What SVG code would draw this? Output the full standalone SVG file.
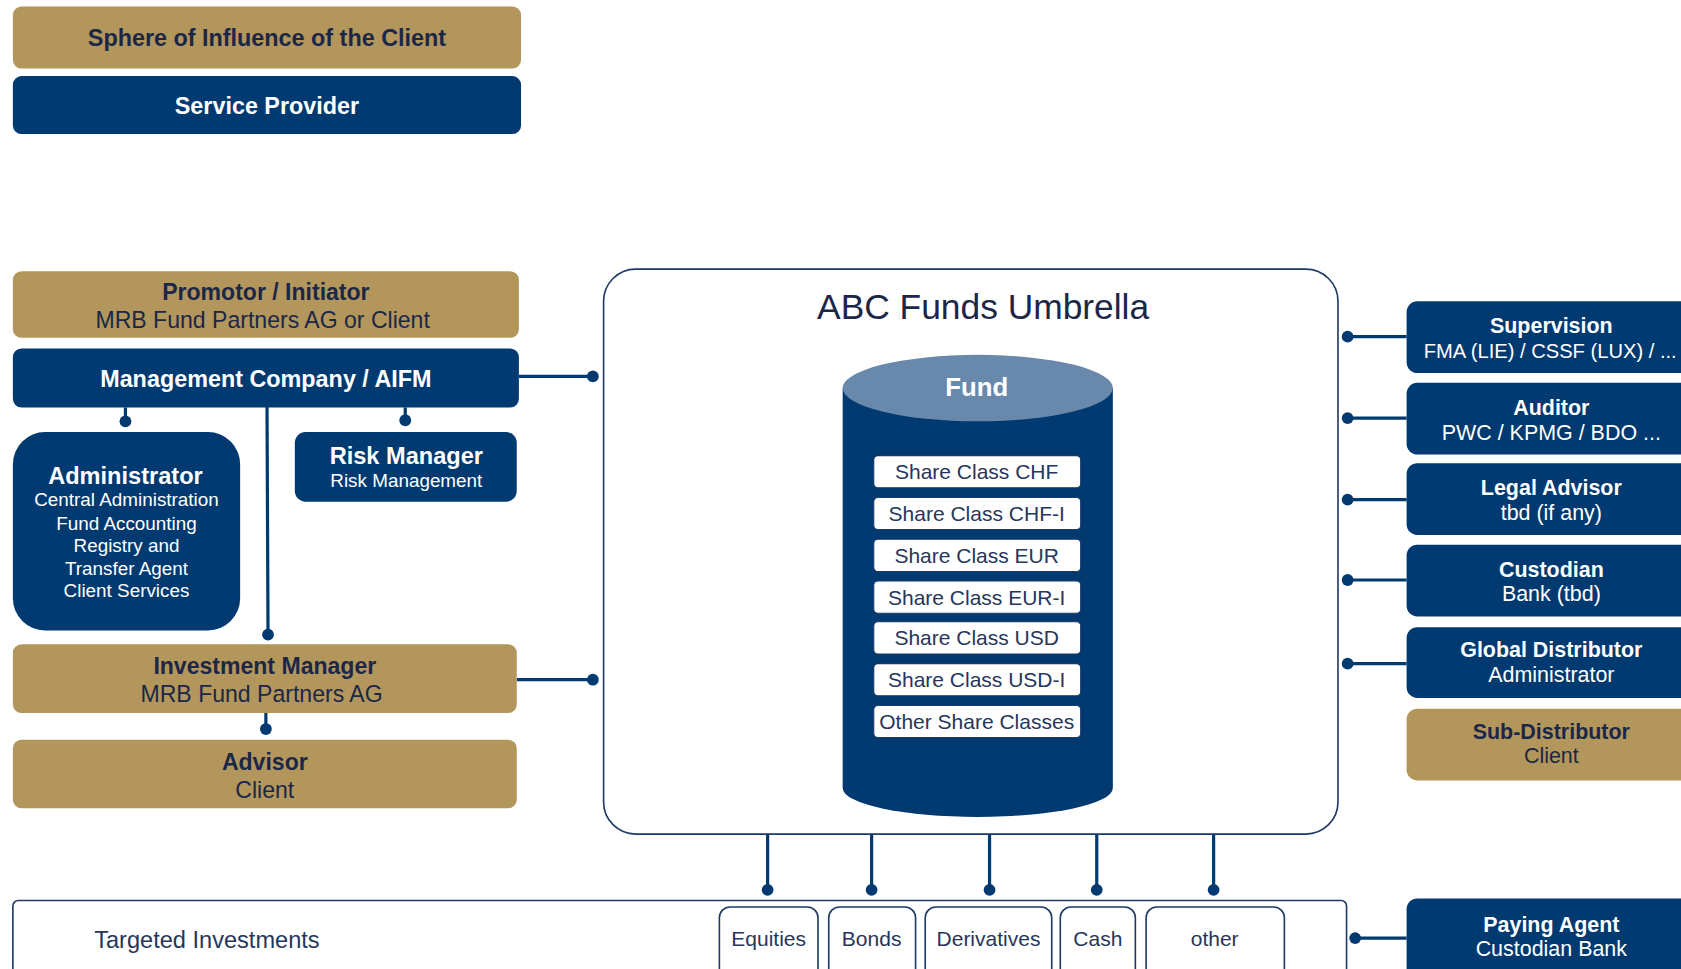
<svg xmlns="http://www.w3.org/2000/svg" width="1681" height="969" viewBox="0 0 1681 969">
<style>
text{font-family:"Liberation Sans",Arial,sans-serif;text-anchor:middle}
.gold{fill:#b3965b}
.navy{fill:#003a70}
.tg{fill:#1b2748}
.tw{fill:#ffffff}
.b{font-weight:bold}
.conn{stroke:#003a70;stroke-width:3;fill:none}
.dot{fill:#003a70}
.sc{fill:#ffffff;stroke:#1f3864;stroke-width:1}
.sct{fill:#26365c;font-size:19.6px}
.inv{fill:#ffffff;stroke:#1f3864;stroke-width:1.5}
.invt{fill:#26365c;font-size:19.6px}
.rt{font-size:20px}
</style>
<rect width="1681" height="969" fill="#ffffff"/>
<g transform="scale(1.0721)">
<g id="legend-sphere"><rect class="gold" x="12" y="6" width="474" height="58" rx="8"/><text class="tg b" x="249" y="43" font-size="21.8">Sphere of Influence of the Client</text></g>
<g id="legend-service"><rect class="navy" x="12" y="71" width="474" height="54" rx="8"/><text class="tw b" x="249" y="106" font-size="21.8">Service Provider</text></g>

<g id="connectors">
<line class="conn" x1="484" y1="351" x2="553" y2="351"/><circle class="dot" cx="553" cy="351" r="5.5"/>
<line class="conn" x1="117" y1="380" x2="117" y2="393"/><circle class="dot" cx="117" cy="393" r="5.5"/>
<line class="conn" x1="378" y1="380" x2="378" y2="392"/><circle class="dot" cx="378" cy="392" r="5.5"/>
<line class="conn" x1="249" y1="368" x2="250" y2="592"/><circle class="dot" cx="250" cy="592" r="5.5"/>
<line class="conn" x1="482" y1="634" x2="553" y2="634"/><circle class="dot" cx="553" cy="634" r="5.5"/>
<line class="conn" x1="248" y1="665" x2="248" y2="680"/><circle class="dot" cx="248" cy="680" r="5.5"/>
<line class="conn" x1="1257" y1="314" x2="1312" y2="314"/><circle class="dot" cx="1257" cy="314" r="5.5"/>
<line class="conn" x1="1257" y1="390" x2="1312" y2="390"/><circle class="dot" cx="1257" cy="390" r="5.5"/>
<line class="conn" x1="1257" y1="466" x2="1312" y2="466"/><circle class="dot" cx="1257" cy="466" r="5.5"/>
<line class="conn" x1="1257" y1="541" x2="1312" y2="541"/><circle class="dot" cx="1257" cy="541" r="5.5"/>
<line class="conn" x1="1257" y1="619" x2="1312" y2="619"/><circle class="dot" cx="1257" cy="619" r="5.5"/>
<line class="conn" x1="1264" y1="875" x2="1312" y2="875"/><circle class="dot" cx="1264" cy="875" r="5.5"/>
<line class="conn" x1="716" y1="778" x2="716" y2="830"/><circle class="dot" cx="716" cy="830" r="5.5"/>
<line class="conn" x1="813" y1="778" x2="813" y2="830"/><circle class="dot" cx="813" cy="830" r="5.5"/>
<line class="conn" x1="923" y1="778" x2="923" y2="830"/><circle class="dot" cx="923" cy="830" r="5.5"/>
<line class="conn" x1="1023" y1="778" x2="1023" y2="830"/><circle class="dot" cx="1023" cy="830" r="5.5"/>
<line class="conn" x1="1132" y1="778" x2="1132" y2="830"/><circle class="dot" cx="1132" cy="830" r="5.5"/>
</g>

<g id="promotor"><rect class="gold" x="12" y="253" width="472" height="62" rx="8"/><text class="tg b" x="248" y="280" font-size="21.5">Promotor / Initiator</text><text class="tg" x="245" y="306" font-size="21.5">MRB Fund Partners AG or Client</text></g>
<g id="management"><rect class="navy" x="12" y="325" width="472" height="55" rx="8"/><text class="tw b" x="248" y="361" font-size="21.8">Management Company / AIFM</text></g>
<g id="administrator"><rect class="navy" x="12" y="403" width="212" height="185" rx="30"/><text class="tw b" x="117" y="451" font-size="22">Administrator</text><text class="tw" font-size="17.6"><tspan x="118" y="472">Central Administration</tspan><tspan x="118" y="494">Fund Accounting</tspan><tspan x="118" y="515">Registry and</tspan><tspan x="118" y="536">Transfer Agent</tspan><tspan x="118" y="557">Client Services</tspan></text></g>
<g id="risk-manager"><rect class="navy" x="275" y="403" width="207" height="65" rx="10"/><text class="tw b" x="379" y="433" font-size="22">Risk Manager</text><text class="tw" x="379" y="454" font-size="17.6">Risk Management</text></g>
<g id="investment-manager"><rect class="gold" x="12" y="601" width="470" height="64" rx="8"/><text class="tg b" x="247" y="629" font-size="21.5">Investment Manager</text><text class="tg" x="244" y="655" font-size="21.5">MRB Fund Partners AG</text></g>
<g id="advisor"><rect class="gold" x="12" y="690" width="470" height="64" rx="8"/><text class="tg b" x="247" y="718" font-size="21.5">Advisor</text><text class="tg" x="247" y="744" font-size="21.5">Client</text></g>

<g id="umbrella"><rect x="563" y="251" width="685" height="527" rx="30" fill="#ffffff" stroke="#1f3864" stroke-width="1.5"/><text x="917" y="298" font-size="33" fill="#1b2748">ABC Funds Umbrella</text></g>
<g id="fund">
<path class="navy" d="M786,362 L786,735 A126,27 0 0 0 1038,735 L1038,362 Z"/>
<ellipse cx="912" cy="362" rx="126" ry="31" fill="#6889ab"/>
<text class="tw b" x="911" y="369" font-size="24">Fund</text>
</g>
<g id="sc-chf"><rect class="sc" x="815" y="425" width="193" height="30" rx="4"/><text class="sct" x="911" y="447">Share Class CHF</text></g>
<g id="sc-chf-i"><rect class="sc" x="815" y="464" width="193" height="30" rx="4"/><text class="sct" x="911" y="486">Share Class CHF-I</text></g>
<g id="sc-eur"><rect class="sc" x="815" y="503" width="193" height="30" rx="4"/><text class="sct" x="911" y="525">Share Class EUR</text></g>
<g id="sc-eur-i"><rect class="sc" x="815" y="542" width="193" height="30" rx="4"/><text class="sct" x="911" y="564">Share Class EUR-I</text></g>
<g id="sc-usd"><rect class="sc" x="815" y="580" width="193" height="30" rx="4"/><text class="sct" x="911" y="602">Share Class USD</text></g>
<g id="sc-usd-i"><rect class="sc" x="815" y="619" width="193" height="30" rx="4"/><text class="sct" x="911" y="641">Share Class USD-I</text></g>
<g id="sc-other"><rect class="sc" x="815" y="658" width="193" height="30" rx="4"/><text class="sct" x="911" y="680">Other Share Classes</text></g>

<g id="supervision"><rect class="navy" x="1312" y="281" width="280" height="67" rx="10"/><text class="tw b rt" x="1447" y="311">Supervision</text><text class="tw" x="1446" y="334" font-size="18.8">FMA (LIE) / CSSF (LUX) / ...</text></g>
<g id="auditor"><rect class="navy" x="1312" y="357" width="280" height="67" rx="10"/><text class="tw b rt" x="1447" y="387">Auditor</text><text class="tw rt" x="1447" y="410">PWC / KPMG / BDO ...</text></g>
<g id="legal-advisor"><rect class="navy" x="1312" y="432" width="280" height="67" rx="10"/><text class="tw b rt" x="1447" y="462">Legal Advisor</text><text class="tw rt" x="1447" y="485">tbd (if any)</text></g>
<g id="custodian"><rect class="navy" x="1312" y="508" width="280" height="67" rx="10"/><text class="tw b rt" x="1447" y="538">Custodian</text><text class="tw rt" x="1447" y="561">Bank (tbd)</text></g>
<g id="global-distributor"><rect class="navy" x="1312" y="585" width="280" height="66" rx="10"/><text class="tw b rt" x="1447" y="613">Global Distributor</text><text class="tw rt" x="1447" y="636">Administrator</text></g>
<g id="sub-distributor"><rect class="gold" x="1312" y="661" width="280" height="67" rx="10"/><text class="tg b rt" x="1447" y="689">Sub-Distributor</text><text class="tg rt" x="1447" y="712">Client</text></g>
<g id="paying-agent"><rect class="navy" x="1312" y="838" width="280" height="90" rx="10"/><text class="tw b rt" x="1447" y="869">Paying Agent</text><text class="tw rt" x="1447" y="892">Custodian Bank</text></g>

<g id="targeted-investments"><rect x="12" y="840" width="1244" height="90" rx="5" fill="#ffffff" stroke="#1f3864" stroke-width="1.5"/><text x="193" y="884" font-size="22" fill="#26365c">Targeted Investments</text></g>
<g id="equities"><rect class="inv" x="671" y="846" width="92" height="80" rx="10"/><text class="invt" x="717" y="882">Equities</text></g>
<g id="bonds"><rect class="inv" x="773" y="846" width="81" height="80" rx="10"/><text class="invt" x="813" y="882">Bonds</text></g>
<g id="derivatives"><rect class="inv" x="863" y="846" width="118" height="80" rx="10"/><text class="invt" x="922" y="882">Derivatives</text></g>
<g id="cash"><rect class="inv" x="989" y="846" width="70" height="80" rx="10"/><text class="invt" x="1024" y="882">Cash</text></g>
<g id="other"><rect class="inv" x="1069" y="846" width="129" height="80" rx="10"/><text class="invt" x="1133" y="882">other</text></g>
</g>
</svg>
